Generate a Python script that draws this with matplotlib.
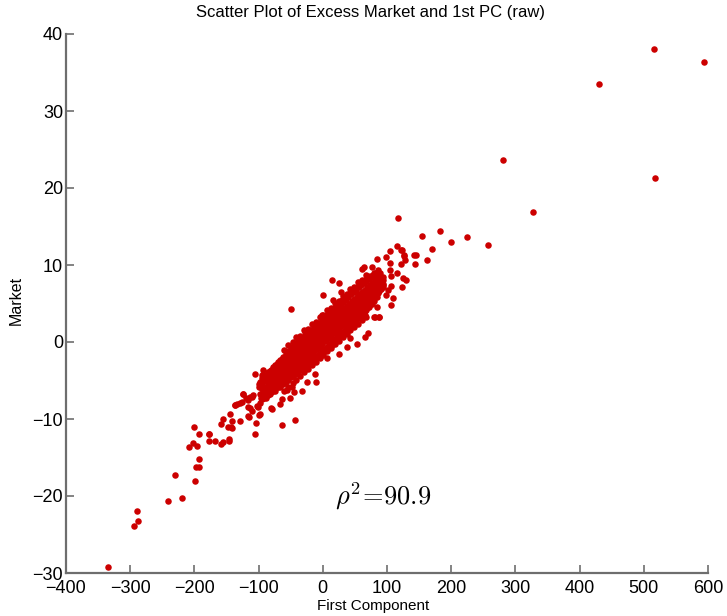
import matplotlib
matplotlib.use('Agg')
import matplotlib.pyplot as plt

plt.rcParams['font.family'] = ['Liberation Sans', 'DejaVu Sans']
plt.rcParams['mathtext.fontset'] = 'cm'

# outlying points (first component, market)
out_x = [516, 593, 430, 280, 517, 327, 117, 155, 182, 200, 224, 258, 170, 123,
         127, 142, 144, 162, 145, 115, 122, 104, 127, 128, 98, 104, 122, 85,
         104, 116, 106, 125, 130, 124, 107, 109, 107, 88, 79, 66, 71, 66, 42,
         85, 64, 61, 76, 86, 89, 87, 79, 15, 26, 1, 16, 28, -28, -31, 102, 99,
         25, 54, 37, 88, 82, -49, -2, -10, -17, 6]
out_y = [38.0, 36.4, 33.5, 23.6, 21.3, 16.9, 16.1, 13.8, 14.4, 13.0, 13.6, 12.6,
         12.1, 12.0, 11.2, 11.3, 10.1, 10.6, 11.3, 12.5, 12.0, 11.8, 11.3, 10.7,
         11.1, 10.2, 10.1, 10.8, 9.4, 9.0, 8.6, 8.3, 8.0, 7.1, 7.3, 5.7, 4.8,
         3.3, 3.2, 3.5, 1.2, 0.7, 0.5, 4.6, 9.8, 9.5, 9.7, 9.4, 9.0, 8.2, 9.0,
         8.0, 7.7, 6.1, 5.4, 6.5, 1.3, 0.5, 6.8, 6.1, -1.6, -0.3, -0.6, 3.2,
         3.2, 4.3, 3.5, 2.3, -1.3, -2.1]

# lower tail
tail_x = [-335, -294, -290, -288, -241, -230, -219, -199, -198, -193, -193,
          -208, -202, -196, -200, -193, -177, -178, -168, -158, -155, -146,
          -159, -155, -148, -141, -145, -141, -129, -124, -136, -134, -126,
          -119, -113, -108, -116, -111, -103, -104, -105, -115, -100, -99,
          -177, -146, -143, -116, -98, -81, -63, -44, -67, -51, -32, -45, -25,
          -12, -11, -124, -137, -106, -95, -85, -93, -69, -71, -99, -90, -89,
          -116, -110, -129, -114, -101, -79, -64, -55, -48]
tail_y = [-29.2, -23.9, -22.0, -23.3, -20.6, -17.3, -20.2, -18.1, -16.2, -16.2,
          -15.2, -13.6, -13.1, -13.5, -11.1, -12.0, -12.0, -12.8, -12.9, -13.2,
          -13.0, -12.8, -10.6, -10.0, -11.1, -11.2, -9.4, -10.2, -10.2, -6.8,
          -8.2, -8.0, -7.8, -7.3, -7.1, -6.9, -8.4, -9.0, -8.3, -10.5, -11.9,
          -9.7, -9.5, -5.8, -11.9, -12.6, -11.1, -9.6, -9.4, -8.6, -10.8, -10.1,
          -8.1, -7.3, -6.4, -6.5, -5.2, -4.1, -5.2, -6.7, -8.2, -4.2, -4.3,
          -4.2, -3.6, -2.8, -4.0, -5.4, -6.5, -7.3, -7.5, -7.1, -7.9, -8.6,
          -8.4, -8.7, -7.4, -6.2, -5.9]

# dense core, first pass: upper, middle and lower readings per x
core_x = [-98, -95, -92, -89, -86, -84, -82, -80, -78, -76, -74, -72, -70, -68,
          -66, -64, -62, -60, -58, -56, -54, -52, -50, -48, -46, -44, -42, -40,
          -38, -36, -34, -32, -30, -28, -26, -24, -22, -20, -18, -16, -14, -12,
          -10, -8, -6, -4, -2, 0, 2, 4, 6, 8, 10, 12, 14, 16, 18, 20, 22, 24,
          26, 28, 30, 32, 34, 36, 38, 40, 42, 44, 46, 48, 50, 52, 54, 56, 58,
          60, 62, 64, 66, 68, 70, 72, 74, 76, 78, 80, 82, 84, 86, 88, 90, 93]
core_hi = [-5.2, -4.7, -4.5, -4.3, -3.9, -4.4, -3.8, -3.6, -3.3, -3.4, -3.0,
           -2.9, -2.6, -2.8, -2.3, -2.2, -1.9, -2.1, -1.5, -1.6, -1.2, -1.4,
           -0.9, -0.7, -0.9, -0.4, -0.5, -0.2, 0.1, -0.1, 0.4, 0.3, 0.7, 0.6,
           1.0, 0.8, 1.3, 1.1, 1.6, 1.4, 1.9, 1.7, 2.2, 2.0, 2.5, 2.3, 2.8, 2.7,
           3.1, 3.0, 3.5, 3.3, 3.8, 3.6, 4.1, 3.9, 4.4, 4.2, 4.7, 4.6, 5.0, 4.9,
           5.4, 5.2, 5.7, 5.5, 6.0, 5.8, 6.3, 6.2, 6.6, 6.5, 7.0, 6.8, 7.2, 7.1,
           7.5, 7.4, 7.8, 7.6, 8.1, 7.9, 8.3, 8.2, 8.6, 8.4, 8.7, 8.5, 8.9, 8.3,
           8.7, 8.1, 8.4, 8.0]
core_mid = [-6.8, -6.1, -5.9, -6.0, -5.5, -5.3, -5.6, -5.0, -4.9, -4.6, -4.9,
            -4.4, -4.6, -4.1, -3.9, -4.2, -3.6, -3.8, -3.3, -3.5, -3.0, -3.2,
            -2.8, -2.6, -2.4, -2.6, -2.1, -2.3, -1.8, -1.6, -1.9, -1.4, -1.2,
            -1.5, -0.9, -1.1, -0.6, -0.9, -0.4, -0.1, -0.3, 0.2, 0.0, 0.5, 0.3,
            0.8, 0.6, 1.1, 0.9, 1.4, 1.2, 1.7, 1.5, 2.0, 1.8, 2.3, 2.1, 2.6, 2.4,
            2.9, 2.7, 3.2, 3.0, 3.5, 3.3, 3.8, 3.6, 4.1, 3.9, 4.4, 4.2, 4.7, 4.5,
            5.0, 4.8, 5.3, 5.1, 5.6, 5.4, 5.9, 5.7, 6.2, 6.0, 6.5, 6.3, 6.8, 6.6,
            7.1, 6.9, 7.3, 7.6, 7.2, 7.7, 7.4]
core_lo = [-7.9, -7.4, -7.3, -7.0, -6.9, -6.6, -6.8, -6.5, -6.4, -6.1, -6.3,
           -5.9, -5.8, -5.6, -5.9, -5.3, -5.4, -5.1, -5.2, -4.8, -4.9, -4.5,
           -4.6, -4.3, -4.4, -4.0, -4.2, -3.8, -3.9, -3.5, -3.3, -3.6, -3.1,
           -3.3, -2.8, -3.0, -2.6, -2.7, -2.3, -2.5, -2.0, -2.2, -1.8, -1.9,
           -1.5, -1.7, -1.2, -1.4, -0.9, -1.1, -0.6, -0.8, -0.3, -0.5, 0.0, -0.2,
           0.4, 0.2, 0.7, 0.5, 1.0, 0.8, 1.3, 1.1, 1.6, 1.4, 1.9, 1.8, 2.2, 2.1,
           2.6, 2.4, 2.9, 2.8, 3.2, 3.1, 3.6, 3.4, 3.9, 3.8, 4.3, 4.1, 4.6, 4.5,
           5.0, 4.9, 5.4, 5.3, 5.8, 5.9, 6.4, 6.6, 6.9, 7.1]

# dense core, second pass between the first-pass readings
core2_x = [-97, -94, -91, -88, -85, -83, -81, -79, -77, -75, -73, -71, -69,
           -67, -65, -63, -61, -59, -57, -55, -53, -51, -49, -47, -45, -43,
           -41, -39, -37, -35, -33, -31, -29, -27, -25, -23, -21, -19, -17,
           -15, -13, -11, -9, -7, -5, -3, -1, 1, 3, 5, 7, 9, 11, 13, 15, 17,
           19, 21, 23, 25, 27, 29, 31, 33, 35, 37, 39, 41, 43, 45, 47, 49, 51,
           53, 55, 57, 59, 61, 63, 65, 67, 69, 71, 73, 75, 77, 79, 81, 83, 85,
           87, 89, 91, 94]
core2_a = [-5.6, -5.3, -5.0, -4.8, -4.6, -4.5, -4.2, -4.2, -3.9, -3.9, -3.6,
           -3.6, -3.3, -3.3, -3.0, -3.0, -2.7, -2.7, -2.4, -2.4, -2.1, -2.1,
           -1.8, -1.8, -1.5, -1.5, -1.2, -1.1, -0.9, -0.8, -0.6, -0.5, -0.3,
           -0.2, 0.0, 0.1, 0.3, 0.4, 0.6, 0.7, 0.9, 1.0, 1.2, 1.3, 1.5, 1.6,
           1.8, 1.9, 2.0, 2.3, 2.3, 2.6, 2.6, 2.9, 2.9, 3.2, 3.2, 3.5, 3.5, 3.8,
           3.8, 4.1, 4.1, 4.4, 4.4, 4.7, 4.7, 5.0, 5.0, 5.3, 5.3, 5.6, 5.6, 5.9,
           5.9, 6.2, 6.2, 6.5, 6.5, 6.8, 6.8, 7.1, 7.1, 7.4, 7.4, 7.7, 7.7, 8.0,
           7.9, 8.3, 7.9, 8.2, 8.2, 8.5]
core2_b = [-7.3, -7.0, -6.8, -6.6, -6.5, -6.2, -6.2, -5.9, -5.9, -5.6, -5.6,
           -5.3, -5.3, -5.0, -5.1, -4.7, -4.8, -4.4, -4.5, -4.1, -4.2, -3.8,
           -3.9, -3.5, -3.6, -3.2, -3.3, -2.9, -3.0, -2.6, -2.7, -2.3, -2.4,
           -2.0, -2.1, -1.7, -1.8, -1.4, -1.5, -1.1, -1.2, -0.8, -0.9, -0.5,
           -0.6, -0.2, -0.3, 0.1, 0.1, 0.4, 0.4, 0.7, 0.7, 1.0, 1.0, 1.3, 1.3,
           1.6, 1.6, 1.9, 1.9, 2.2, 2.2, 2.5, 2.5, 2.8, 2.8, 3.1, 3.1, 3.4, 3.4,
           3.7, 3.7, 4.0, 4.0, 4.3, 4.3, 4.6, 4.6, 4.9, 4.9, 5.2, 5.2, 5.5, 5.5,
           5.8, 5.8, 6.1, 6.2, 6.5, 6.8, 7.0, 7.2, 7.5]

# fringe of the core
fr_x = [-60, -54, -47, -41, -35, -29, -23, -17, -11, -5, 1, 7, 13, 19, 25, 31,
        37, 43, 49, 55, 61, 67]
fr_hi = [-1.1, -0.4, 0.0, 0.6, 0.8, 1.5, 1.7, 2.4, 2.6, 3.3, 3.5, 4.2, 4.4,
         5.1, 5.3, 6.0, 6.2, 6.9, 7.1, 7.8, 8.0, 8.7]
fr_lo = [-6.3, -5.8, -5.3, -4.9, -4.4, -3.9, -3.5, -3.0, -2.6, -2.1, -1.7,
         -1.2, -0.8, -0.3, 0.1, 0.6, 1.0, 1.5, 1.9, 2.4, 2.8, 3.3]

red = '#CC0000'
grey = '#6E6E6E'

fig = plt.figure(figsize=(7.27, 6.16), dpi=100)
ax = fig.add_axes([66 / 727, 43 / 616, 642 / 727, 539 / 616])

kw = dict(s=22, c=red, linewidths=0)
ax.scatter(out_x, out_y, **kw)
ax.scatter(tail_x, tail_y, **kw)
for ys in (core_hi, core_mid, core_lo):
    ax.scatter(core_x, ys, **kw)
for ys in (core2_a, core2_b):
    ax.scatter(core2_x, ys, **kw)
for ys in (fr_hi, fr_lo):
    ax.scatter(fr_x, ys, **kw)

ax.set_xlim(-400, 600)
ax.set_ylim(-30, 40)
ax.set_xticks(range(-400, 601, 100))
ax.set_yticks(range(-30, 41, 10))

for side in ('top', 'right'):
    ax.spines[side].set_visible(False)
for side in ('left', 'bottom'):
    ax.spines[side].set_color(grey)
    ax.spines[side].set_linewidth(1.6)
ax.tick_params(direction='in', length=6, width=1.2, color=grey, labelsize=13)
ax.tick_params(axis='x', pad=5)
ax.tick_params(axis='y', pad=2)

ax.text(94, -20.1, r'$\rho^2\!=\!90.9$', fontsize=19, ha='center',
        va='center')

fig.text(371 / 727, 1 - 12 / 616, 'Scatter Plot of Excess Market and 1st PC (raw)',
         ha='center', va='center', fontsize=12)
fig.text(373 / 727, 1 - 606 / 616, 'First Component', ha='center',
         va='center', fontsize=11)
fig.text(16 / 727, 1 - 300 / 616, 'Market', ha='center', va='center',
         rotation=90, fontsize=11.5)

fig.savefig('out.png', dpi=100)
